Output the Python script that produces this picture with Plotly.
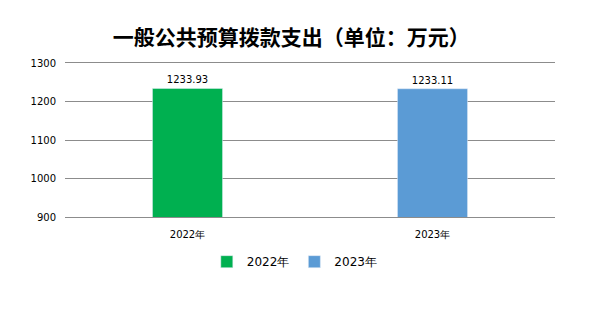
import plotly.graph_objects as go

categories = ["2022年", "2023年"]
values = [1233.93, 1233.11]
labels = ["1233.93", "1233.11"]
colors = ["#00B050", "#5B9BD5"]
y_ticks = [900, 1000, 1100, 1200, 1300]

fig = go.Figure()
for cat, val, lab, col in zip(categories, values, labels, colors):
    fig.add_trace(go.Bar(
        x=[cat], y=[val], name=cat, marker_color=col, width=0.286,
        text=[lab], textposition="outside", cliponaxis=False,
        textfont=dict(family="DejaVu Sans", size=10, color="#000000"),
    ))

fig.update_layout(
    width=591, height=311,
    margin=dict(l=65, r=36, t=63, b=94),
    paper_bgcolor="white", plot_bgcolor="white",
    barmode="overlay",
    title=dict(text="<b>一般公共预算拨款支出（单位：万元）</b>",
               x=0.493, xanchor="center", y=0.88, yanchor="middle",
               font=dict(family="Noto Sans CJK SC", size=21, color="#000000")),
    xaxis=dict(showline=True, mirror=True, linecolor="#8C8C8C", linewidth=1,
               ticks="", ticklabelstandoff=8,
               tickfont=dict(family="DejaVu Sans", size=10, color="#000000")),
    yaxis=dict(range=[900, 1300], tickvals=y_ticks, showgrid=True, gridcolor="#8C8C8C",
               gridwidth=1, zeroline=False, showline=False, ticks="", ticklabelstandoff=8,
               tickfont=dict(family="DejaVu Sans", size=10, color="#000000")),
    legend=dict(orientation="h", x=0.469, xanchor="center", y=-0.29, yanchor="middle",
                font=dict(family="DejaVu Sans", size=12, color="#000000"),
                itemwidth=30),
    showlegend=True,
)

fig.write_html("out.html")
